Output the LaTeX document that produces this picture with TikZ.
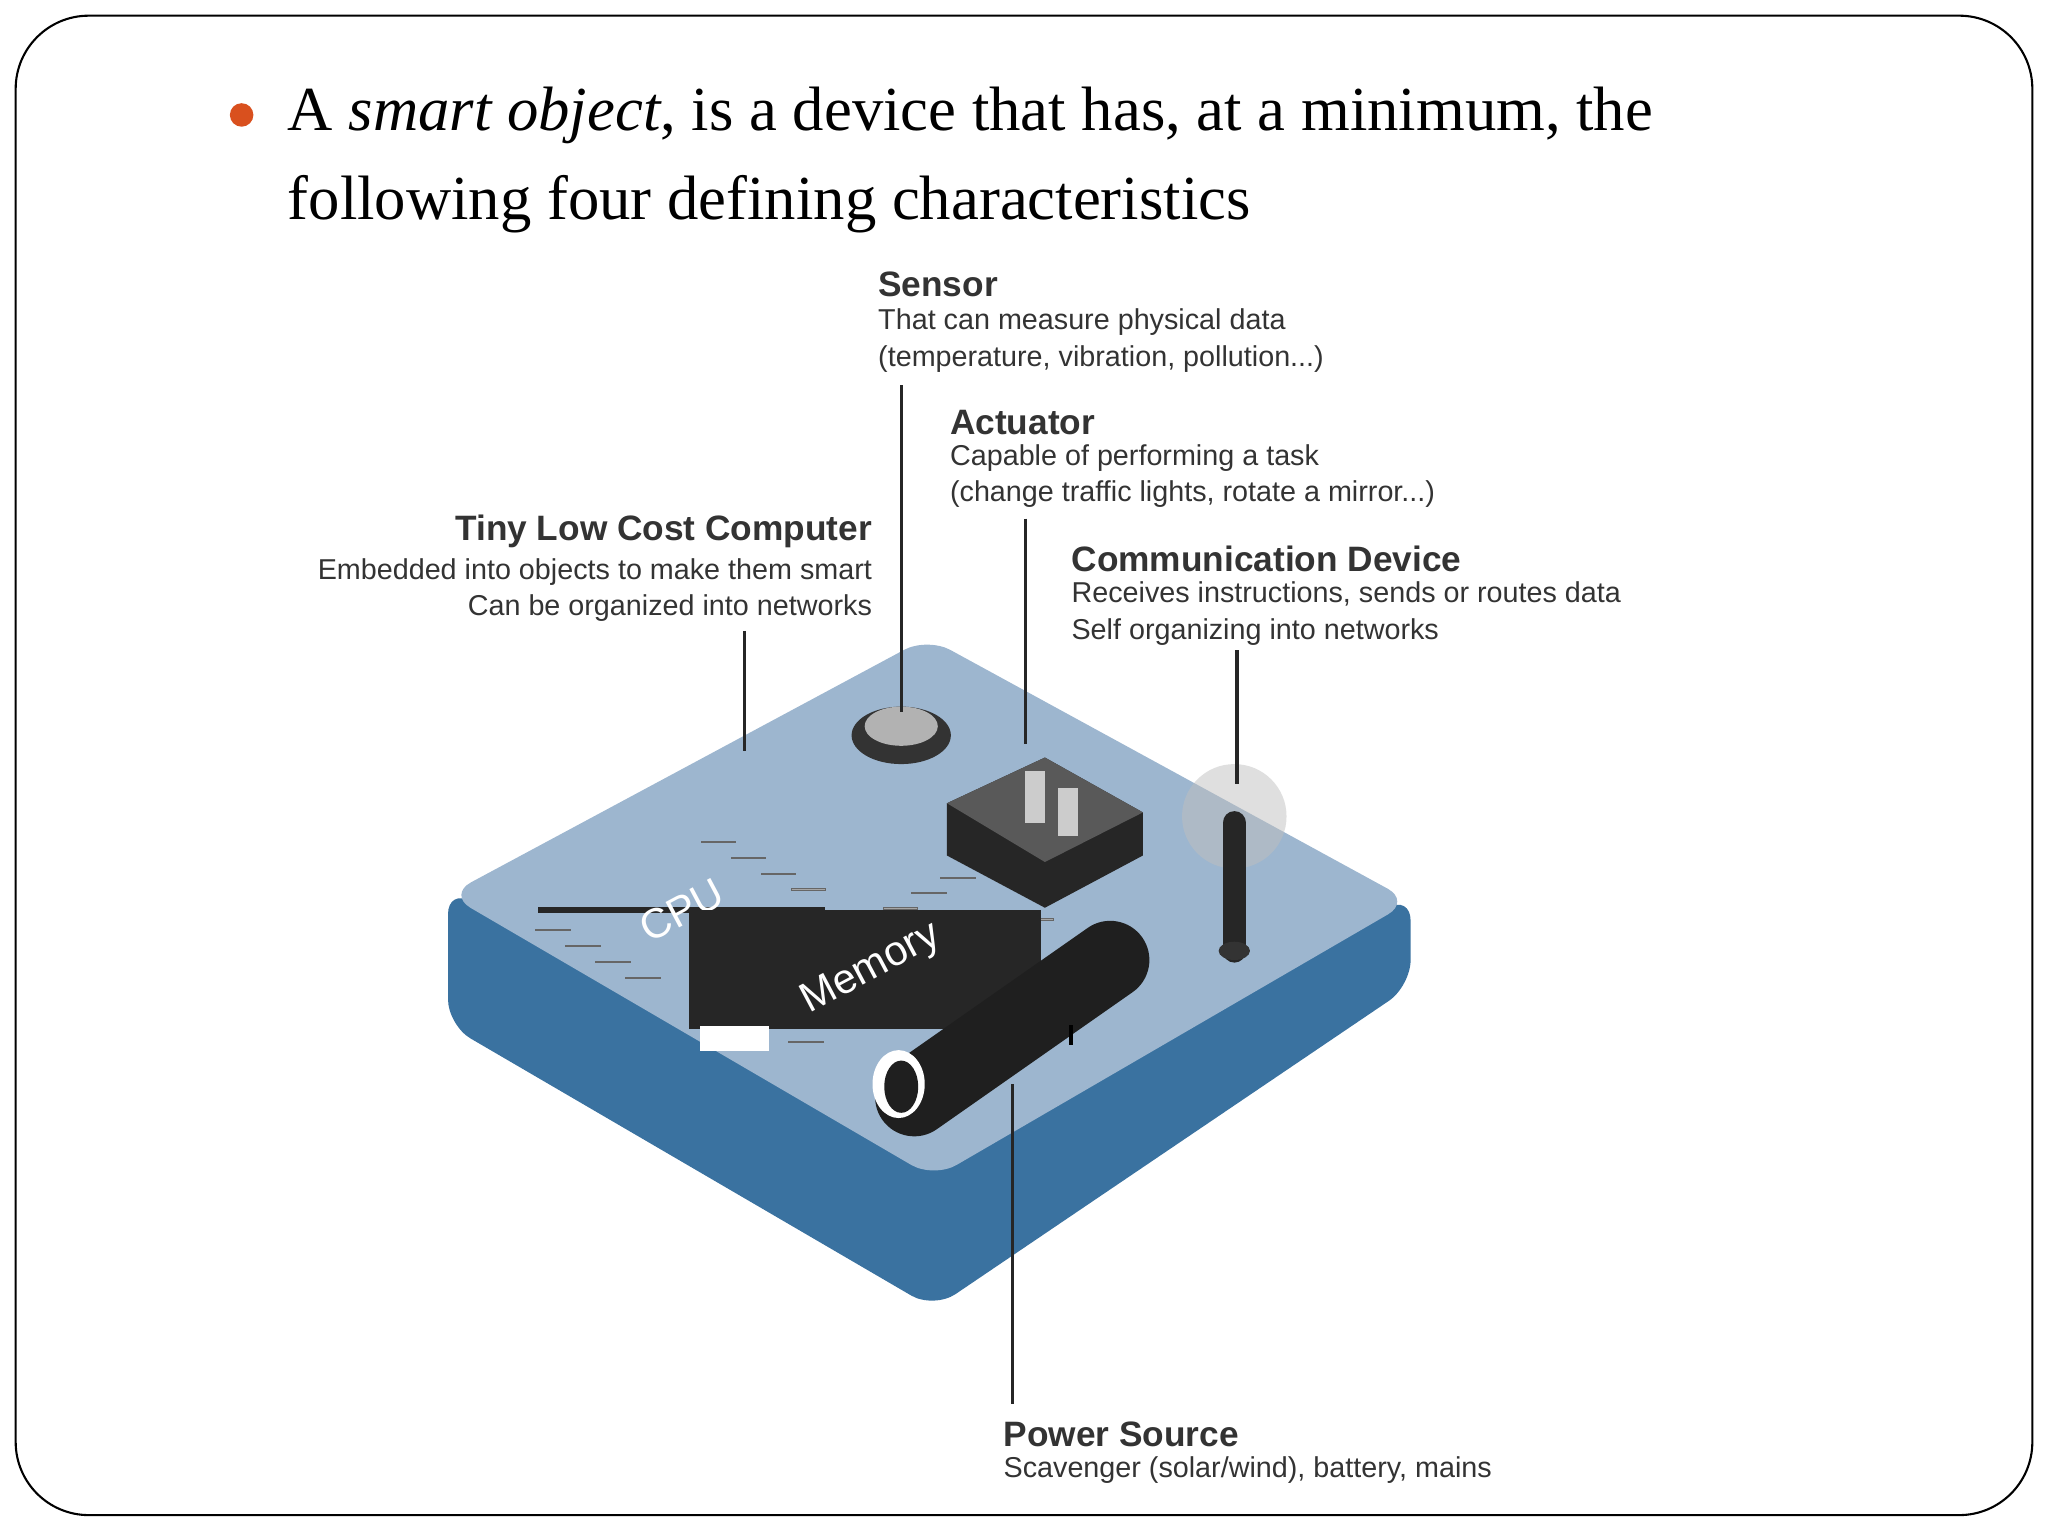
\documentclass[tikz,border=0pt]{standalone}
\usepackage{fontspec}
\setmainfont{Liberation Serif}
\setsansfont{Liberation Sans}
\usetikzlibrary{shapes.geometric}
\definecolor{topc}{HTML}{9DB6CF}
\definecolor{sidec}{HTML}{3A72A0}
\definecolor{bul}{HTML}{D9501E}
\definecolor{txt}{HTML}{333333}
\tikzset{
  hd/.style={font=\sffamily\bfseries\fontsize{13.5}{15}\selectfont,text=txt,inner sep=0pt},
  bd/.style={font=\sffamily\fontsize{11}{14}\selectfont,text=txt,inner sep=0pt,align=left},
  lead/.style={line width=1.3pt,black!85},
  pin/.style={fill=gray!70,draw=black!60,line width=0.3pt},
  iso/.style={x={(0.44pt,0.235pt)},y={(0.44pt,-0.235pt)}}
}
\begin{document}
\begin{tikzpicture}[x=0.5pt,y=-0.5pt]
\useasboundingbox (0,0) rectangle (1568,1176);
\draw[line width=0.8pt,rounded corners=28pt] (12,12) rectangle (1556,1160);
\fill[bul] (185,88) circle (9);
\node[anchor=north west,align=left,inner sep=0pt,font=\fontsize{24}{34}\selectfont] (title) at (220,66)
 {A \textit{smart object}, is a device that has, at a minimum, the\\following four defining characteristics};
% board
\fill[sidec,rounded corners=10pt] (343,680) -- (715,897) -- (1080,685) -- (1080,755) -- (715,1002) -- (343,785) -- cycle;
\fill[topc,rounded corners=10pt] (343,685) -- (710,488) -- (1080,690) -- (715,902) -- cycle;
% CPU
\begin{scope}[shift={(522,697)}]
\begin{scope}[iso]
 \foreach \j in {-40,-14,12,38}{
  \fill[pin] (-80,\j-7) rectangle (-64,\j+7);
  \fill[pin] (64,\j-7) rectangle (80,\j+7);}
 \fill[black!85] (-65,-60) rectangle (65,60);
\end{scope}
 \node[text=white,font=\sffamily\fontsize{16}{16}\selectfont,rotate=28] (cpu) at (0,0) {CPU};
\end{scope}
% Memory
\begin{scope}[shift={(662,742)}]
\begin{scope}[iso]
 \foreach \i in {-85,-60,...,115}{
  \fill[pin] (\i-7,-42) rectangle (\i+7,-26);
  \fill[pin] (\i-7,26) rectangle (\i+7,42);}
 \fill[black!85] (-125,-28) rectangle (125,28);
 \fill[white] (-118,-25) rectangle (-108,25);
\end{scope}
 \node[text=white,font=\sffamily\fontsize{16}{16}\selectfont,rotate=28] (mem) at (5,0) {Memory};
\end{scope}
% sensor
\fill[black!80] (690,563) ellipse (38 and 22);
\fill[gray!60] (690,556) ellipse (28 and 15);
\coordinate (sens) at (690,545);
% actuator
\fill[black!85] (725,615) -- (800,580) -- (875,622) -- (875,655) -- (800,695) -- (725,655) -- cycle;
\fill[black!65] (725,615) -- (800,580) -- (875,622) -- (800,660) -- cycle;
\fill[gray!40] (785,590) rectangle (800,630);
\fill[gray!40] (810,603) rectangle (825,640);
\coordinate (act) at (785,570);
% antenna
\fill[gray!50,opacity=0.5] (945,625) circle (40);
\draw[line width=9pt,line cap=round,black!85] (945,630) -- (945,728);
\fill[black!80] (945,728) ellipse (12 and 7);
\coordinate (ant) at (947,600);
% power source
\draw[line width=30pt,line cap=round,black!88] (700,840) -- (850,735);
\fill[white] (688,830) ellipse (20 and 26);
\fill[black!88] (690,832) ellipse (13 and 20);
\draw[line width=1.5pt] (820,785) -- (820,800);
\coordinate (pwr) at (775,830);
% labels
\node[hd,anchor=south west] (sH) at (672,228) {Sensor};
\node[bd,anchor=north west] (sB) at (672,236) {That can measure physical data\\(temperature, vibration, pollution...)};
\node[hd,anchor=south west] (aH) at (727,333) {Actuator};
\node[bd,anchor=north west] (aB) at (727,340) {Capable of performing a task\\(change traffic lights, rotate a mirror...)};
\node[hd,anchor=south east] (tH) at (668,420) {Tiny Low Cost Computer};
\node[bd,anchor=north east,align=right] (tB) at (668,427) {Embedded into objects to make them smart\\Can be organized into networks};
\node[hd,anchor=south west] (cH) at (820,438) {Communication Device};
\node[bd,anchor=north west] (cB) at (820,445) {Receives instructions, sends or routes data\\Self organizing into networks};
\node[hd,anchor=south west] (pH) at (768,1108) {Power Source};
\node[bd,anchor=north west] (pB) at (768,1115) {Scavenger (solar/wind), battery, mains};
% leads
\coordinate (tc) at (570,575);
\draw[lead] (570,483) -- (tc);
\draw[lead] (690,295) -- (sens);
\draw[lead] (785,397) -- (act);
\draw[lead] (947,498) -- (ant);
\draw[lead] (pwr) -- (775,1075);
\end{tikzpicture}
\end{document}
